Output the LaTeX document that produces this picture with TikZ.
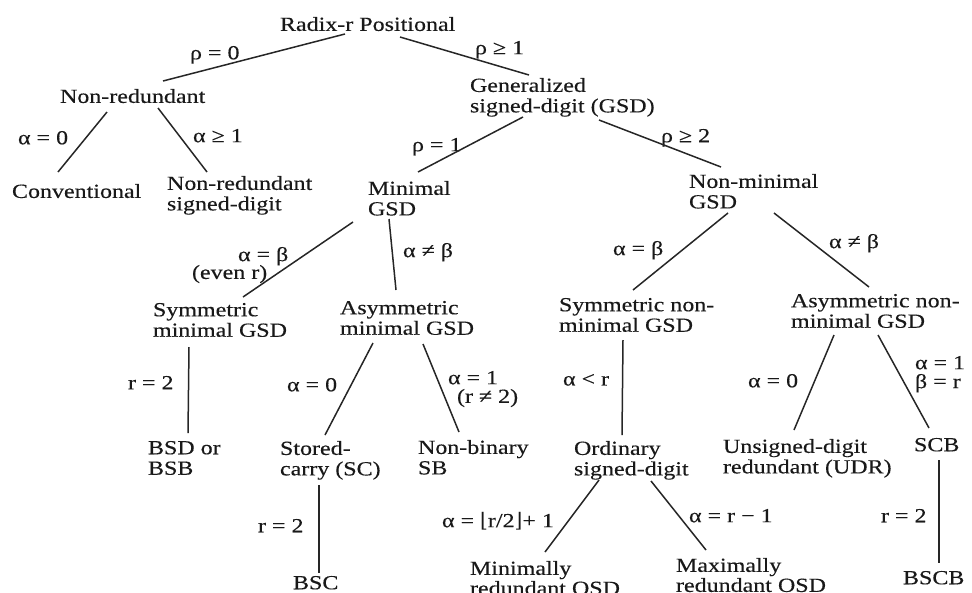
\documentclass[tikz,border=0pt]{standalone}
\usepackage{fontspec}
\setmainfont{Liberation Serif}[FakeStretch=1.2,FakeBold=0.3]
\newfontfamily\dvs{DejaVu Serif}
\begin{document}
\begin{tikzpicture}[x=1pt,y=-1pt,
  lbl/.style={anchor=north west,inner sep=0pt,outer sep=0pt,font=\fontsize{20}{20.5}\selectfont,text=black!90},
  txt/.style={lbl,align=left},
  conn/.style={line width=1.5pt,draw=black!85}]
\useasboundingbox (0,0) rectangle (972,592);
% ---- category nodes
\node[txt] (rad)   at (280,17)  {Radix-r Positional};
\node[txt] (nr)    at (60,89)   {Non-redundant};
\node[txt] (gsd)   at (470,78)  {Generalized\\signed-digit (GSD)};
\node[txt] (conv)  at (12,184)  {Conventional};
\node[txt] (nrsd)  at (167,176) {Non-redundant\\signed-digit};
\node[txt] (mgsd)  at (368,181) {Minimal\\GSD};
\node[txt] (nmgsd) at (689,174) {Non-minimal\\GSD};
\node[txt] (smgsd) at (153,303) {Symmetric\\minimal GSD};
\node[txt] (amgsd) at (340,301) {Asymmetric\\minimal GSD};
\node[txt] (bsd)   at (148,441) {BSD or\\BSB};
\node[txt] (sc)    at (280,441) {Stored-\\carry (SC)};
\node[txt] (nbsb)  at (418,440) {Non-binary\\SB};
\node[txt] (bsc)   at (293,576) {BSC};
\node[txt] (snm)   at (559,298) {Symmetric non-\\minimal GSD};
\node[txt] (anm)   at (791,294) {Asymmetric non-\\minimal GSD};
\node[txt] (osd)   at (574,441) {Ordinary\\signed-digit};
\node[txt] (udr)   at (723,439) {Unsigned-digit\\redundant (UDR)};
\node[txt] (scb)   at (914,438) {SCB};
\node[txt,font=\fontsize{20}{20}\selectfont] (mini)  at (470,561) {Minimally\\redundant OSD};
\node[txt,font=\fontsize{20}{20}\selectfont] (maxi)  at (676,558) {Maximally\\redundant OSD};
\node[txt] (bscb)  at (903,571) {BSCB};
% ---- condition labels
\node[lbl] (lrho0) at (190,46)  {ρ = 0};
\node[lbl] (lrho1) at (475,41)  {ρ ≥ 1};
\node[lbl] (la0)   at (18,131)  {α = 0};
\node[lbl] (la1)   at (193,129) {α ≥ 1};
\node[lbl] (lr1)   at (412,138) {ρ = 1};
\node[lbl] (lr2)   at (661,129) {ρ ≥ 2};
\node[lbl] (lab)   at (238,247) {α = β};
\node[lbl] (leven) at (192,265) {(even r)};
\node[lbl] (lanb)  at (403,243) {α ≠ β};
\node[lbl] (lr2a)  at (128,376) {r = 2};
\node[lbl] (la0b)  at (287,378) {α = 0};
\node[lbl] (la1b)  at (448,371) {α = 1};
\node[lbl] (lrn2)  at (457,389) {(r ≠ 2)};
\node[lbl] (lr2b)  at (258,519) {r = 2};
\node[lbl] (lab2)  at (613,241) {α = β};
\node[lbl] (lanb2) at (829,234) {α ≠ β};
\node[lbl] (lalr)  at (563,374) {α < r};
\node[lbl] (la0c)  at (748,374) {α = 0};
\node[lbl] (la1c)  at (915,356) {α = 1};
\node[lbl] (lbr)   at (915,374) {β = r};
\node[lbl] (lfloor) at (442,512) {α = {\dvs ⌊}r/2{\dvs ⌋}+ 1};
\node[lbl] (lrm1)  at (689,509) {α = r − 1};
\node[lbl] (lr2c)  at (881,509) {r = 2};
% ---- connectors
\draw[conn] ([shift={(65,17)}]rad.north west) -- ([shift={(103,-8)}]nr.north west);
\draw[conn] ([shift={(120,20)}]rad.north west) -- ([shift={(59,-3)}]gsd.north west);
\draw[conn] ([shift={(47,23)}]nr.north west) -- ([shift={(46,-12)}]conv.north west);
\draw[conn] ([shift={(98,19)}]nr.north west) -- ([shift={(40,-4)}]nrsd.north west);
\draw[conn] ([shift={(53,39)}]gsd.north west) -- ([shift={(50,-9)}]mgsd.north west);
\draw[conn] ([shift={(129,42)}]gsd.north west) -- ([shift={(32,-7)}]nmgsd.north west);
\draw[conn] ([shift={(-15,41)}]mgsd.north west) -- ([shift={(90,-6)}]smgsd.north west);
\draw[conn] ([shift={(21,38)}]mgsd.north west) -- ([shift={(56,-11)}]amgsd.north west);
\draw[conn] ([shift={(36,44)}]smgsd.north west) -- ([shift={(40,-8)}]bsd.north west);
\draw[conn] ([shift={(33,42)}]amgsd.north west) -- ([shift={(45,-6)}]sc.north west);
\draw[conn] ([shift={(83,43)}]amgsd.north west) -- ([shift={(41,-8)}]nbsb.north west);
\draw[conn] ([shift={(39,44)}]sc.north west) -- ([shift={(26,-3)}]bsc.north west);
\draw[conn] ([shift={(39,39)}]nmgsd.north west) -- ([shift={(74,-8)}]snm.north west);
\draw[conn] ([shift={(85,39)}]nmgsd.north west) -- ([shift={(78,-7)}]anm.north west);
\draw[conn] ([shift={(64,42)}]snm.north west) -- ([shift={(48,-6)}]osd.north west);
\draw[conn] ([shift={(43,41)}]anm.north west) -- ([shift={(71,-9)}]udr.north west);
\draw[conn] ([shift={(87,41)}]anm.north west) -- ([shift={(15,-10)}]scb.north west);
\draw[conn] ([shift={(25,39)}]osd.north west) -- ([shift={(75,-9)}]mini.north west);
\draw[conn] ([shift={(77,40)}]osd.north west) -- ([shift={(30,-8)}]maxi.north west);
\draw[conn] ([shift={(25,22)}]scb.north west) -- ([shift={(36,-8)}]bscb.north west);
\end{tikzpicture}
\end{document}
